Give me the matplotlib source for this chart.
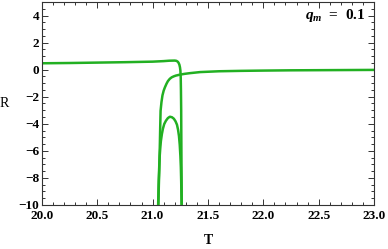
"""
Curvature R versus temperature T for q_m = 0.1, three branches.

Output:
  - ./out.png
"""

import matplotlib

matplotlib.use("Agg")
import matplotlib.pyplot as plt
from matplotlib.ticker import MultipleLocator

# Branch A: upper branch that sits near R ~ 0.5 and plunges at T ~ 21.26
A_T = [20.0, 20.25, 20.5, 20.75, 21.0, 21.1, 21.15, 21.2, 21.215, 21.228,
       21.236, 21.242, 21.247, 21.251, 21.254, 21.256, 21.258, 21.26, 21.262, 21.263]
A_R = [0.47, 0.49, 0.52, 0.55, 0.59, 0.63, 0.66, 0.67, 0.65, 0.58,
       0.48, 0.36, 0.18, -0.07, -0.6, -1.55, -3.0, -6.0, -8.5, -10.0]

# Branch B: the arch between T ~ 21.05 and T ~ 21.26
B_T = [21.050, 21.055, 21.060, 21.064, 21.070, 21.075, 21.084, 21.093, 21.105, 21.120,
       21.138, 21.156, 21.175, 21.192, 21.207, 21.220, 21.230, 21.238, 21.245, 21.251,
       21.255, 21.258, 21.262]
B_R = [-10.0, -8.2, -7.1, -6.4, -5.7, -5.26, -4.75, -4.37, -4.02, -3.78,
       -3.58, -3.48, -3.52, -3.63, -3.82, -4.07, -4.45, -4.9, -5.55, -6.4,
       -7.2, -8.2, -10.0]

# Branch C: rising branch that approaches R ~ 0 from below
C_T = [21.052, 21.056, 21.060, 21.063, 21.066, 21.069, 21.072, 21.080, 21.089, 21.100,
       21.111, 21.125, 21.138, 21.155, 21.172, 21.190, 21.21, 21.247, 21.29, 21.337,
       21.43, 21.6, 21.8, 22.0, 22.25, 22.5, 22.75, 23.0]
C_R = [-10.0, -8.6, -7.5, -6.4, -5.3, -4.1, -3.04, -2.4, -1.9, -1.55,
       -1.31, -1.05, -0.85, -0.68, -0.57, -0.5, -0.44, -0.37, -0.31, -0.26,
       -0.18, -0.12, -0.09, -0.07, -0.05, -0.04, -0.03, -0.02]

LINE_COLOR = "#22b022"


def main() -> int:
    plt.rcParams["font.family"] = ["Liberation Serif", "DejaVu Serif"]
    plt.rcParams["mathtext.fontset"] = "custom"
    plt.rcParams["mathtext.it"] = "Liberation Serif:italic:bold"
    plt.rcParams["mathtext.rm"] = "Liberation Serif:bold"

    fig = plt.figure(figsize=(3.88, 2.49), dpi=100)
    ax = fig.add_axes([0.108, 0.177, 0.856, 0.815])

    for t, r in ((A_T, A_R), (B_T, B_R), (C_T, C_R)):
        ax.plot(t, r, color=LINE_COLOR, lw=1.8, solid_capstyle="butt")

    ax.set_xlim(20.0, 23.0)
    ax.set_ylim(-10, 5)
    ax.xaxis.set_major_locator(MultipleLocator(0.5))
    ax.xaxis.set_minor_locator(MultipleLocator(0.1))
    ax.yaxis.set_major_locator(MultipleLocator(2))
    ax.yaxis.set_minor_locator(MultipleLocator(0.5))
    ax.tick_params(which="both", direction="in", top=True, right=True,
                   width=0.7, colors="#333333", labelcolor="black")
    ax.tick_params(which="major", length=4, labelsize=9.5)
    ax.tick_params(axis="x", which="major", pad=4)
    ax.tick_params(axis="y", which="major", pad=2)
    ax.tick_params(which="minor", length=2)
    ax.set_xticks([20.0, 20.5, 21.0, 21.5, 22.0, 22.5, 23.0])
    ax.set_xticklabels(["20.0", "20.5", "21.0", "21.5", "22.0", "22.5", "23.0"],
                       fontweight="bold")
    ax.set_yticks([-10, -8, -6, -4, -2, 0, 2, 4])
    ax.set_yticklabels(["\u221210", "\u22128", "\u22126", "\u22124", "\u22122",
                        "0", "2", "4"], fontweight="bold")
    for s in ax.spines.values():
        s.set_linewidth(0.8)
        s.set_color("#333333")

    ax.set_xlabel("T", fontsize=10, fontweight="bold", labelpad=8)
    ax.set_ylabel("R", fontsize=10, rotation=0, labelpad=10, va="center")

    ax.text(0.975, 0.935, r"$q_m$  =  0.1", transform=ax.transAxes,
            ha="right", va="center", fontsize=11, fontweight="bold")

    fig.savefig("out.png", dpi=100)
    plt.close(fig)
    return 0


if __name__ == "__main__":
    raise SystemExit(main())
